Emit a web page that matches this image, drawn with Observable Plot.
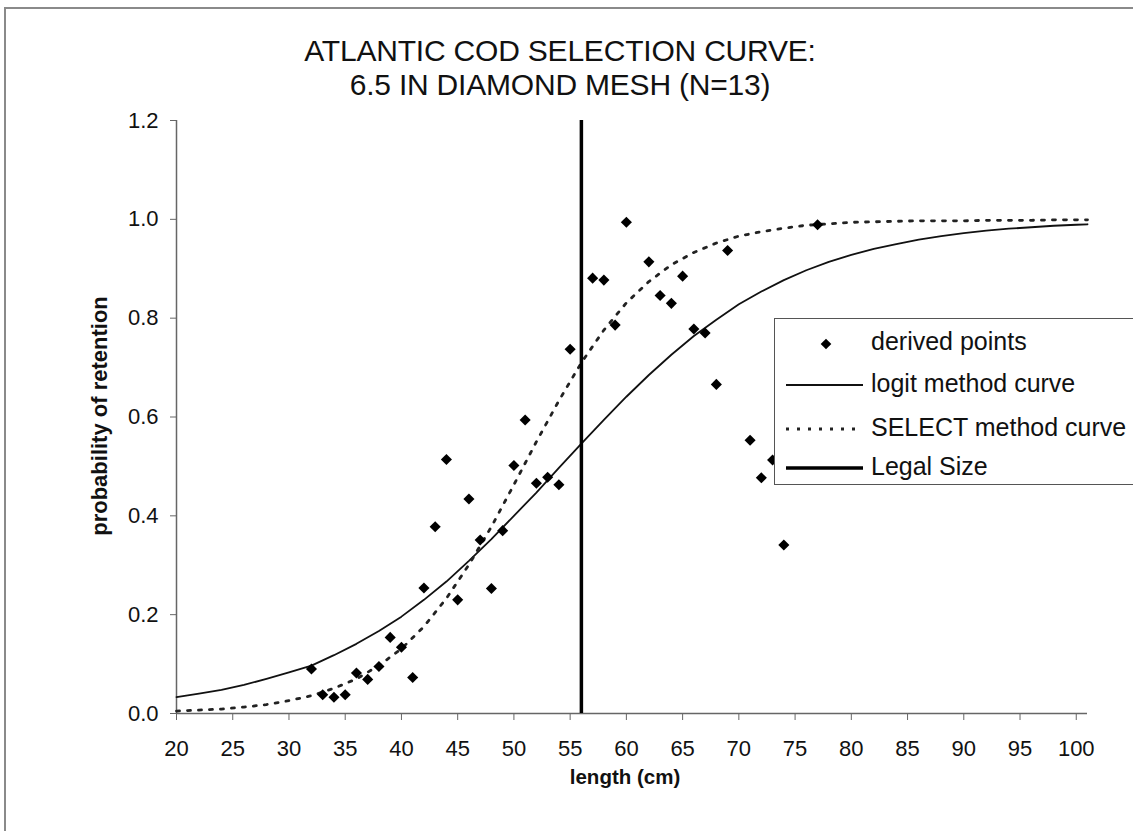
<!DOCTYPE html>
<html>
<head>
<meta charset="utf-8">
<script src="https://cdn.jsdelivr.net/npm/d3@7"></script>
<script src="https://cdn.jsdelivr.net/npm/@observablehq/plot@0.6"></script>
<style>
  html, body { margin: 0; padding: 0; background: #fff; }
  body { width: 1133px; height: 831px; overflow: hidden; position: relative;
         font-family: "Liberation Sans", Arial, Helvetica, sans-serif; color: #111; }
  #frame { position: absolute; left: 4px; top: 7px; width: 1300px; height: 1000px;
           border-left: 2px solid #8a8a8a; border-top: 2px solid #8a8a8a; }
  #chart { position: absolute; left: 0; top: 0; }
  #title { position: absolute; left: 0; width: 1120px; top: 34px; text-align: center;
           font-size: 30px; line-height: 34px; letter-spacing: -0.2px; }
  .axis-title { position: absolute; font-weight: bold; white-space: nowrap; }
  #xtitle { left: 0; width: 1250px; top: 765px; text-align: center; font-size: 20.5px; }
  #ytitle { left: 100px; top: 416px; transform: translate(-50%, -50%) rotate(-90deg); font-size: 22px; }
  #legend { position: absolute; left: 774px; top: 318px; width: 400px; height: 165px;
            border: 1.5px solid #555; background: #fff; }
  .row { position: absolute; left: 0; height: 30px; width: 400px; }
  .row svg { position: absolute; left: 8px; top: 0; }
  .row span { position: absolute; left: 96px; top: 0; font-size: 25px; line-height: 30px; white-space: nowrap; }
</style>
</head>
<body>
<div id="frame"></div>
<div id="chart"></div>
<div id="title">ATLANTIC COD SELECTION CURVE:<br>6.5 IN DIAMOND MESH (N=13)</div>
<div class="axis-title" id="xtitle">length (cm)</div>
<div class="axis-title" id="ytitle">probability of retention</div>
<div id="legend"></div>
<script>
// Observed retention proportions by length class
const lengths = [32, 33, 34, 35, 36, 37, 38, 39, 40, 41, 42, 43, 44, 45, 46, 47, 48, 49, 50, 51,
                 52, 53, 54, 55, 57, 58, 59, 60, 62, 63, 64, 65, 66, 67, 68, 69, 71, 72, 73, 74, 77];
const retention = [0.090, 0.038, 0.033, 0.038, 0.082, 0.069, 0.095, 0.154, 0.134, 0.073,
                   0.254, 0.378, 0.514, 0.230, 0.434, 0.351, 0.253, 0.370, 0.502, 0.594,
                   0.466, 0.478, 0.463, 0.737, 0.881, 0.877, 0.786, 0.994, 0.914, 0.846,
                   0.830, 0.885, 0.778, 0.770, 0.666, 0.937, 0.553, 0.477, 0.513, 0.341, 0.989];

// Fitted curves
const curveLengths = [20, 22, 24, 26, 28, 30, 32, 34, 36, 38, 40, 42, 44, 46, 48, 50, 52, 54, 56, 58,
                      60, 62, 64, 66, 68, 70, 72, 74, 76, 78, 80, 82, 84, 86, 88, 90, 92, 94, 96, 98, 100, 101];
const logitCurve = [0.033, 0.040, 0.048, 0.058, 0.070, 0.083, 0.097, 0.118, 0.141, 0.167,
                    0.196, 0.230, 0.267, 0.309, 0.353, 0.400, 0.447, 0.497, 0.546, 0.594,
                    0.641, 0.685, 0.726, 0.764, 0.797, 0.828, 0.854, 0.877, 0.897, 0.914,
                    0.928, 0.940, 0.950, 0.959, 0.966, 0.972, 0.977, 0.981, 0.984, 0.987, 0.989, 0.990];
const selectCurve = [0.005, 0.007, 0.009, 0.013, 0.018, 0.026, 0.036, 0.051, 0.070, 0.097,
                     0.131, 0.176, 0.233, 0.301, 0.378, 0.463, 0.550, 0.633, 0.710, 0.776,
                     0.831, 0.874, 0.908, 0.933, 0.952, 0.966, 0.975, 0.982, 0.988, 0.991,
                     0.994, 0.995, 0.996, 0.997, 0.997, 0.997, 0.998, 0.998, 0.998, 0.999, 0.999, 0.999];

const legalSize = 56;
const xTicks = [20, 25, 30, 35, 40, 45, 50, 55, 60, 65, 70, 75, 80, 85, 90, 95, 100];
const yTicks = [0, 0.2, 0.4, 0.6, 0.8, 1.0, 1.2];

const points = lengths.map((x, i) => ({x, y: retention[i]}));
const logitRows = curveLengths.map((x, i) => ({x, y: logitCurve[i]}));
const selectRows = curveLengths.map((x, i) => ({x, y: selectCurve[i]}));

const chart = Plot.plot({
  width: 1133,
  height: 831,
  marginLeft: 176,
  marginRight: 46,
  marginTop: 120,
  marginBottom: 118,
  style: {fontFamily: "'Liberation Sans', Arial, sans-serif", fontSize: "22px", color: "#111", background: "transparent"},
  x: {domain: [20, 101]},
  y: {domain: [0, 1.2]},
  marks: [
    Plot.axisX({ticks: xTicks, tickSize: 7, tickPadding: 20, tickFormat: d => String(d), label: null, stroke: "#666"}),
    Plot.axisY({ticks: yTicks, tickSize: 6, tickPadding: 12, tickFormat: d => d.toFixed(1), label: null, stroke: "#666"}),
    Plot.ruleY([0], {stroke: "#666", strokeWidth: 1.5}),
    Plot.ruleX([20], {stroke: "#666", strokeWidth: 1.5}),
    Plot.line(logitRows, {x: "x", y: "y", stroke: "#111", strokeWidth: 1.8}),
    Plot.line(selectRows, {x: "x", y: "y", stroke: "#222", strokeWidth: 2.8, strokeDasharray: "3,8"}),
    Plot.ruleX([legalSize], {stroke: "#000", strokeWidth: 3.5}),
    Plot.dot(points, {x: "x", y: "y", symbol: "diamond2", r: 5, fill: "#000", stroke: "none"})
  ]
});
document.getElementById("chart").appendChild(chart);

// Legend entries
const legendItems = [
  {label: "derived points", kind: "dot", y: 7},
  {label: "logit method curve", kind: "solid", y: 49},
  {label: "SELECT method curve", kind: "dotted", y: 93},
  {label: "Legal Size", kind: "thick", y: 132}
];
const legend = d3.select("#legend");
for (const item of legendItems) {
  const row = legend.append("div").attr("class", "row").style("top", item.y + "px");
  const svg = row.append("svg").attr("width", 82).attr("height", 30);
  if (item.kind === "dot") {
    svg.append("path").attr("d", d3.symbol(d3.symbolDiamond2, 72)()).attr("transform", "translate(43,18)").attr("fill", "#000");
  } else {
    const styles = {
      solid: {w: 1.8, dash: null, c: "#111"},
      dotted: {w: 2.8, dash: "3,8", c: "#222"},
      thick: {w: 3.5, dash: null, c: "#000"}
    }[item.kind];
    svg.append("line").attr("x1", 3).attr("x2", 80).attr("y1", 17).attr("y2", 17)
      .attr("stroke", styles.c).attr("stroke-width", styles.w)
      .attr("stroke-dasharray", styles.dash);
  }
  row.append("span").text(item.label);
}
</script>
</body>
</html>
